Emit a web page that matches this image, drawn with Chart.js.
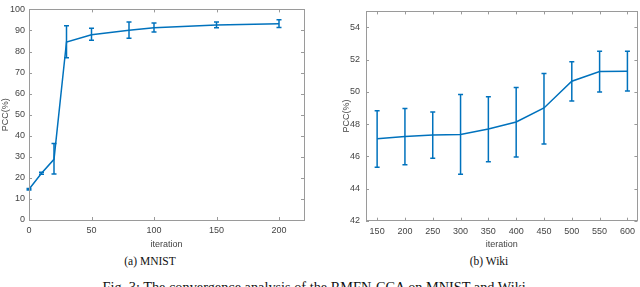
<!DOCTYPE html>
<html>
<head>
<meta charset="utf-8">
<script src="https://cdn.jsdelivr.net/npm/chart.js@4.4.0/dist/chart.umd.min.js"></script>
<style>
  body { margin: 0; background: #fff; width: 640px; height: 287px; overflow: hidden; position: relative; }
  .panel { position: absolute; top: 0; width: 320px; height: 250px; }
  .cap { position: absolute; font-family: "Liberation Serif", serif; color: #111; white-space: nowrap; transform: translateX(-50%); }
</style>
</head>
<body>
<div class="panel" style="left:0"><canvas id="mnistChart" width="320" height="250"></canvas></div>
<div class="panel" style="left:320px"><canvas id="wikiChart" width="320" height="250"></canvas></div>
<div class="cap" style="left:150px; top:255px; font-size:11.5px">(a) MNIST</div>
<div class="cap" style="left:489px; top:255px; font-size:11.5px">(b) Wiki</div>
<div class="cap" style="left:316px; top:279px; font-size:14.3px">Fig. 3: The convergence analysis of the RMFN-CCA on MNIST and Wiki.</div>
<script>
// MNIST panel
const mnistIter = [0, 10, 20, 30, 50, 80, 100, 150, 200];
const mnistPcc = [14.6, 22.2, 28.8, 84.5, 88.0, 90.1, 91.3, 92.6, 93.2];
const mnistLow = [14.2, 21.7, 21.9, 77.0, 85.3, 86.3, 89.3, 91.3, 91.4];
const mnistHigh = [15.0, 22.7, 36.3, 92.2, 91.0, 94.0, 93.6, 94.0, 95.1];
const mnistXTicks = [0, 50, 100, 150, 200];
const mnistYTicks = [0, 10, 20, 30, 40, 50, 60, 70, 80, 90, 100];

// Wiki panel
const wikiIter = [150, 200, 250, 300, 350, 400, 450, 500, 550, 600];
const wikiPcc = [47.09, 47.23, 47.33, 47.35, 47.69, 48.13, 49.0, 50.66, 51.27, 51.29];
const wikiLow = [45.32, 45.48, 45.88, 44.89, 45.66, 45.96, 46.76, 49.44, 50.0, 50.06];
const wikiHigh = [48.83, 48.97, 48.75, 49.84, 49.70, 50.28, 51.15, 51.87, 52.53, 52.53];
const wikiXTicks = [150, 200, 250, 300, 350, 400, 450, 500, 550, 600];
const wikiYTicks = [42, 44, 46, 48, 50, 52, 54];

const blue = "#0072BD";
const axisGray = "#9a9a9a";
const textGray = "#444";
const tickFont = { family: "Liberation Sans", size: 9 };

// error bars drawn through the chart's own scales
const errorBars = {
  id: "errorBars",
  afterDatasetsDraw(chart, args, opts) {
    const { ctx, scales: { x, y } } = chart;
    ctx.save();
    ctx.strokeStyle = blue;
    ctx.lineWidth = 1.5;
    opts.xs.forEach((v, i) => {
      const px = x.getPixelForValue(v);
      const top = y.getPixelForValue(opts.high[i]);
      const bot = y.getPixelForValue(opts.low[i]);
      ctx.beginPath();
      ctx.moveTo(px, top);
      ctx.lineTo(px, bot);
      ctx.moveTo(px - 2.5, top);
      ctx.lineTo(px + 2.5, top);
      ctx.moveTo(px - 2.5, bot);
      ctx.lineTo(px + 2.5, bot);
      ctx.stroke();
    });
    ctx.restore();
  },
};

// matlab-like box with inward ticks
const boxAxes = {
  id: "boxAxes",
  afterDraw(chart) {
    const { ctx, chartArea: { left, right, top, bottom }, scales: { x, y } } = chart;
    ctx.save();
    ctx.strokeStyle = axisGray;
    ctx.lineWidth = 1;
    ctx.strokeRect(Math.round(left) + 0.5, Math.round(top) + 0.5, Math.round(right - left), Math.round(bottom - top));
    ctx.beginPath();
    x.ticks.forEach((t) => {
      const px = Math.round(x.getPixelForValue(t.value)) + 0.5;
      ctx.moveTo(px, bottom);
      ctx.lineTo(px, bottom - 3);
      ctx.moveTo(px, top);
      ctx.lineTo(px, top + 3);
    });
    y.ticks.forEach((t) => {
      const py = Math.round(y.getPixelForValue(t.value)) + 0.5;
      ctx.moveTo(left, py);
      ctx.lineTo(left + 3, py);
      ctx.moveTo(right, py);
      ctx.lineTo(right - 3, py);
    });
    ctx.stroke();
    ctx.restore();
  },
};

function makeChart(id, xs, ys, low, high, xTicks, yTicks, range, layout) {
  return new Chart(document.getElementById(id), {
    type: "line",
    data: {
      datasets: [{
        data: xs.map((v, i) => ({ x: v, y: ys[i] })),
        borderColor: blue,
        borderWidth: 1.5,
        pointRadius: 0,
        tension: 0,
        fill: false,
      }],
    },
    options: {
      responsive: false,
      animation: false,
      events: [],
      layout: { padding: layout.padding },
      plugins: {
        legend: { display: false },
        tooltip: { enabled: false },
        errorBars: { xs: xs, low: low, high: high },
      },
      scales: {
        x: {
          type: "linear",
          min: range.xMin,
          max: range.xMax,
          grid: { display: false, drawTicks: false, tickLength: 0 },
          border: { display: false },
          afterBuildTicks: (s) => { s.ticks = xTicks.map((v) => ({ value: v })); },
          afterFit: (s) => { s.height = layout.xHeight; },
          ticks: { color: textGray, font: tickFont, padding: 5, maxRotation: 0, autoSkip: false },
          title: { display: true, text: "iteration", color: textGray, font: tickFont, padding: { top: 2, bottom: 0 } },
        },
        y: {
          min: range.yMin,
          max: range.yMax,
          grid: { display: false, drawTicks: false, tickLength: 0 },
          border: { display: false },
          afterBuildTicks: (s) => { s.ticks = yTicks.map((v) => ({ value: v })); },
          afterFit: (s) => { s.width = layout.yWidth; },
          ticks: { color: textGray, font: tickFont, padding: layout.yPad, autoSkip: false },
          title: { display: true, text: "PCC(%)", color: textGray, font: tickFont, padding: { top: layout.titlePad, bottom: 0 } },
        },
      },
    },
    plugins: [errorBars, boxAxes],
  });
}

makeChart("mnistChart", mnistIter, mnistPcc, mnistLow, mnistHigh, mnistXTicks, mnistYTicks,
  { xMin: 0, xMax: 220, yMin: 0, yMax: 100 },
  { padding: { top: 3, right: 16, left: 0, bottom: 0 }, xHeight: 30, yWidth: 29, yPad: 4, titlePad: 0 });

makeChart("wikiChart", wikiIter, wikiPcc, wikiLow, wikiHigh, wikiXTicks, wikiYTicks,
  { xMin: 130, xMax: 618, yMin: 42, yMax: 55 },
  { padding: { top: 5, right: 2, left: 0, bottom: 0 }, xHeight: 29.3, yWidth: 46, yPad: 6, titlePad: 21.5 });
</script>
</body>
</html>
